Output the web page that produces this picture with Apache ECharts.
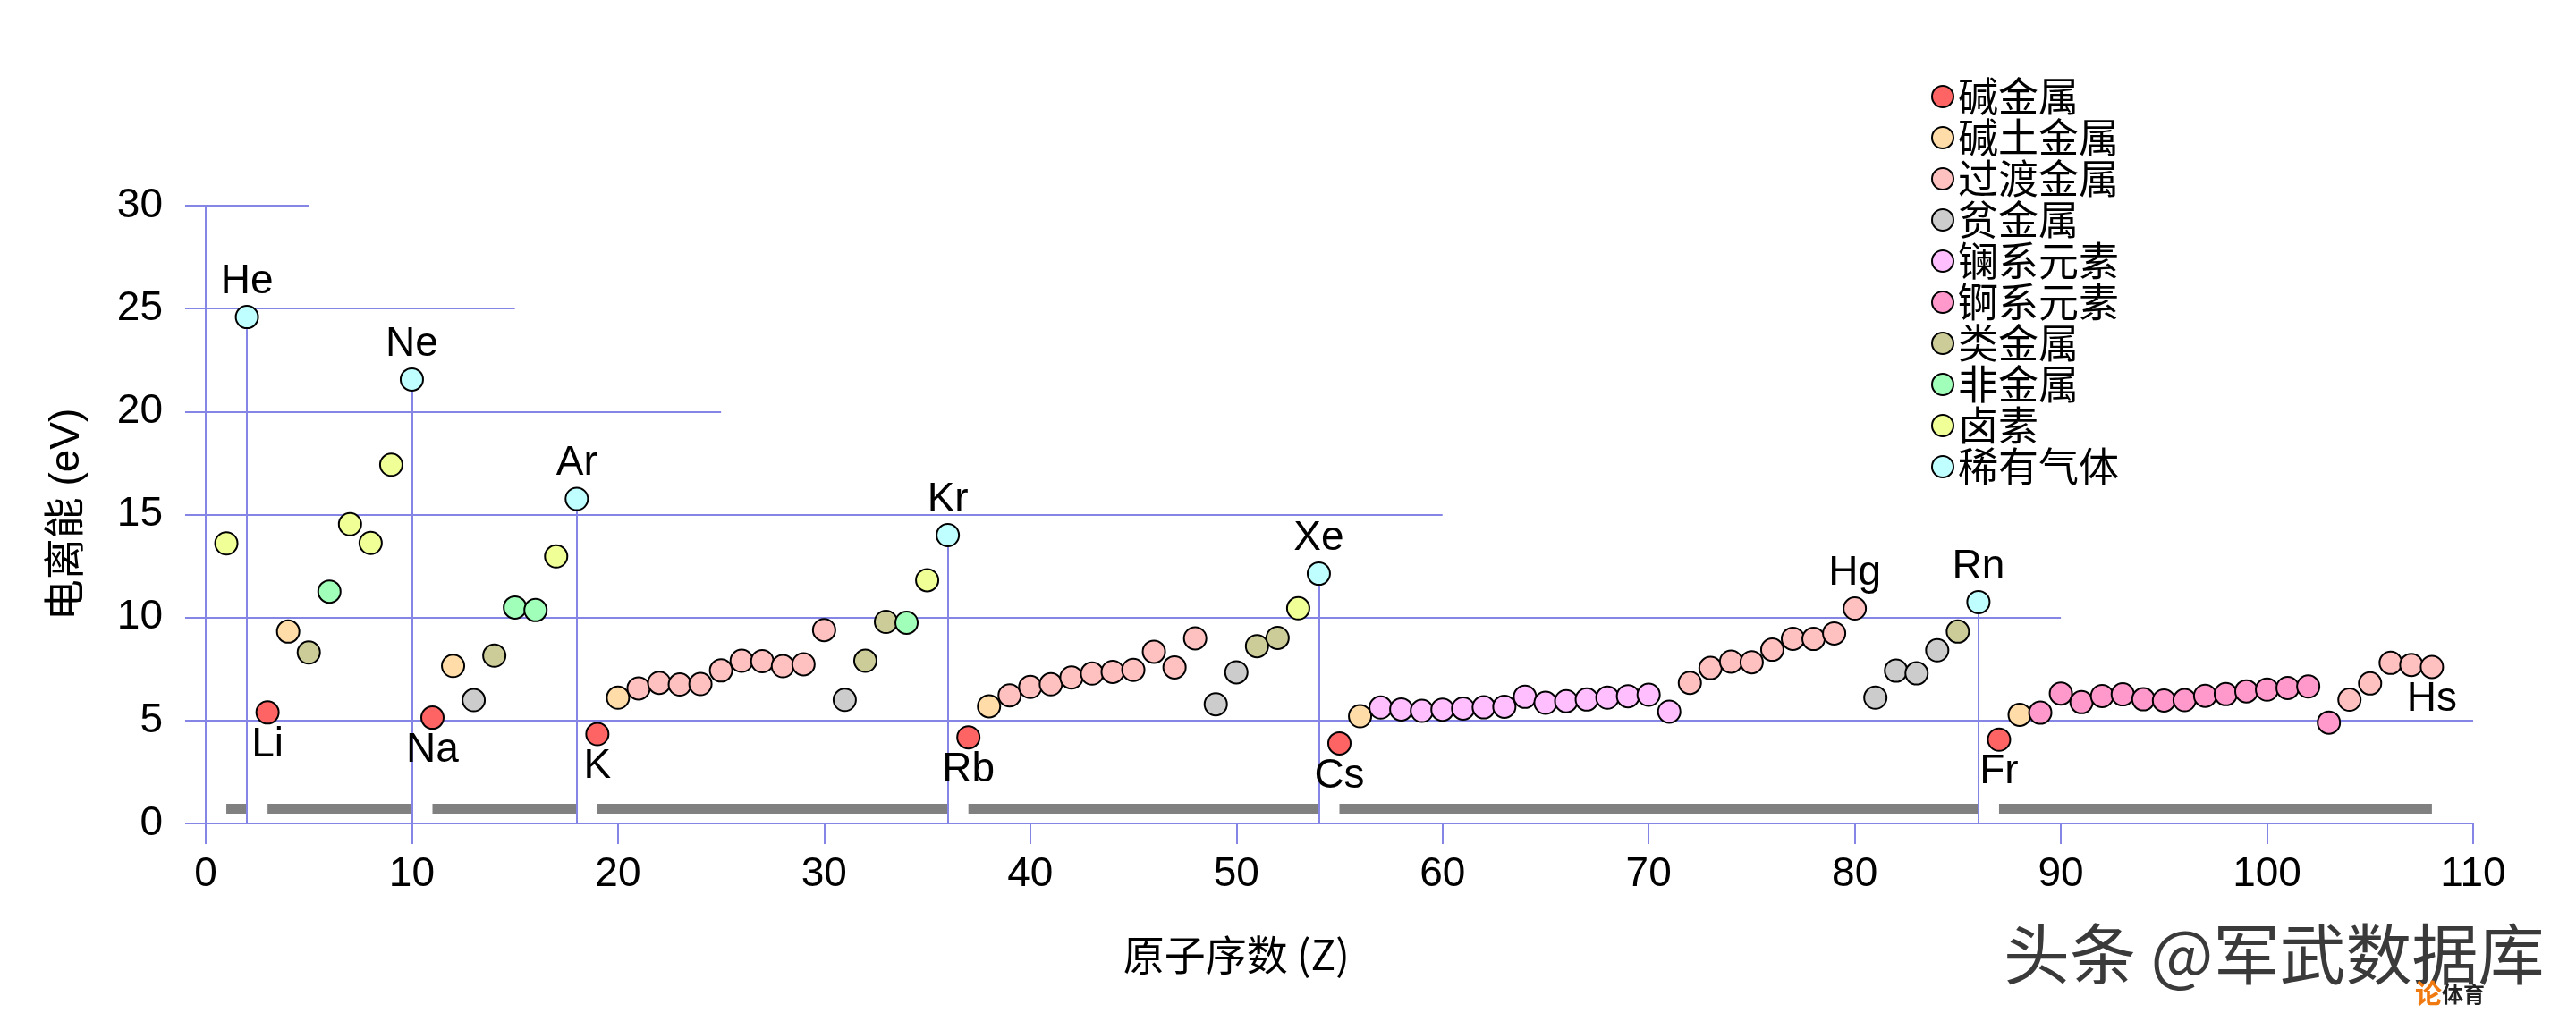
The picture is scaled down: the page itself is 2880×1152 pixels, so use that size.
<!DOCTYPE html>
<html>
<head>
<meta charset="utf-8">
<script src="https://cdn.jsdelivr.net/npm/echarts@6/dist/echarts.min.js"></script>
<style>
html,body{margin:0;padding:0;background:#fff;}
#chart{width:2880px;height:1152px;}
</style>
</head>
<body>
<div id="chart"></div>
<script>
// ---------------- DATA ----------------
const elements = ['H','He','Li','Be','B','C','N','O','F','Ne',
  'Na','Mg','Al','Si','P','S','Cl','Ar',
  'K','Ca','Sc','Ti','V','Cr','Mn','Fe','Co','Ni','Cu','Zn','Ga','Ge','As','Se','Br','Kr',
  'Rb','Sr','Y','Zr','Nb','Mo','Tc','Ru','Rh','Pd','Ag','Cd','In','Sn','Sb','Te','I','Xe',
  'Cs','Ba','La','Ce','Pr','Nd','Pm','Sm','Eu','Gd','Tb','Dy','Ho','Er','Tm','Yb','Lu',
  'Hf','Ta','W','Re','Os','Ir','Pt','Au','Hg','Tl','Pb','Bi','Po','At','Rn',
  'Fr','Ra','Ac','Th','Pa','U','Np','Pu','Am','Cm','Bk','Cf','Es','Fm','Md','No','Lr',
  'Rf','Db','Sg','Bh','Hs'];

const ionization = [13.60,24.59,5.39,9.32,8.30,11.26,14.53,13.62,17.42,21.56,
  5.14,7.65,5.99,8.15,10.49,10.36,12.97,15.76,
  4.34,6.11,6.56,6.83,6.75,6.77,7.43,7.90,7.88,7.64,7.73,9.39,6.00,7.90,9.79,9.75,11.81,14.00,
  4.18,5.69,6.22,6.63,6.76,7.09,7.28,7.36,7.46,8.34,7.58,8.99,5.79,7.34,8.61,9.01,10.45,12.13,
  3.89,5.21,5.63,5.54,5.47,5.53,5.58,5.64,5.67,6.15,5.86,5.94,6.02,6.11,6.18,6.25,5.43,
  6.83,7.55,7.86,7.83,8.44,8.97,8.96,9.23,10.44,6.11,7.42,7.29,8.41,9.32,10.75,
  4.07,5.28,5.38,6.31,5.89,6.19,6.27,6.03,5.97,5.99,6.20,6.28,6.42,6.50,6.58,6.65,4.90,
  6.01,6.80,7.80,7.70,7.60];

// category index per element (see categoryNames)
const category = [
  8,9,                                   // H He
  0,1,6,7,8,8,8,9,                       // Li..Ne
  0,1,3,6,7,7,8,9,                       // Na..Ar
  0,1, 2,2,2,2,2,2,2,2,2,2, 3,6,6,7,8,9, // K..Kr
  0,1, 2,2,2,2,2,2,2,2,2,2, 3,3,6,6,8,9, // Rb..Xe
  0,1, 4,4,4,4,4,4,4,4,4,4,4,4,4,4,4,    // Cs, Ba, La..Lu
  2,2,2,2,2,2,2,2,2, 3,3,3,3,6,9,        // Hf..Rn
  0,1, 5,5,5,5,5,5,5,5,5,5,5,5,5,5,5,    // Fr, Ra, Ac..Lr
  2,2,2,2,2                              // Rf..Hs
];

const categoryNames = ['碱金属','碱土金属','过渡金属','贫金属','镧系元素','锕系元素','类金属','非金属','卤素','稀有气体'];

const labelAbove = ['He','Ne','Ar','Kr','Xe','Hg','Rn'];
const labelBelow = ['Li','Na','K','Rb','Cs','Fr','Hs'];

// partial horizontal reference lines: value and x-extent
const refLineValues = [0,5,10,15,20,25,30];
const refLineEnds   = [110,110,90,60,25,15,5];

// period bars [first Z, last Z]
const periods = [[1,2],[3,10],[11,18],[19,36],[37,54],[55,86],[87,108]];
const periodBarLevel = 0.72;

const xTicks = {min:0, max:110, interval:10};
const yTicks = {min:0, max:30, interval:5};
const xTitleCenter = 50;

// ---------------- STYLE ----------------
const categoryColors = ['#ff6464','#ffdca8','#ffc0c0','#cccccc','#ffbfff','#ff99cc','#cccc99','#a0ffb8','#f0ff96','#c0ffff'];
const blue = '#8585e6';
const FONT = '"Liberation Sans", Arial, "Noto Sans CJK SC", sans-serif';
const FONTSIZE = 46;

// ---------------- BUILD ----------------
const chart = echarts.init(document.getElementById('chart'), null, {renderer:'canvas'});

const scatterSeries = categoryNames.map((name, ci) => {
  const data = [];
  elements.forEach((sym, i) => {
    if (category[i] !== ci) return;
    const item = {value:[i+1, ionization[i]], name: sym};
    if (labelAbove.includes(sym)) {
      item.label = {show:true, position:'top', distance:3, formatter: sym};
    } else if (labelBelow.includes(sym)) {
      item.label = {show:true, position:'bottom', distance:0, formatter: sym};
    }
    data.push(item);
  });
  return {
    name, type:'scatter', data, symbol:'circle', symbolSize:25, z:5,
    itemStyle:{color:categoryColors[ci], borderColor:'#000', borderWidth:2, opacity:1},
    label:{show:false, color:'#000', fontSize:FONTSIZE, fontFamily:FONT},
    emphasis:{disabled:true}
  };
});

const refLines = {
  type:'lines', coordinateSystem:'cartesian2d', silent:true, z:2,
  lineStyle:{color:blue, width:2, opacity:1},
  data: refLineValues.map((v,i) => ({coords:[[0,v],[refLineEnds[i],v]]}))
};

const dropLines = {
  type:'lines', coordinateSystem:'cartesian2d', silent:true, z:3,
  lineStyle:{color:blue, width:2, opacity:1},
  data: elements.map((s,i)=>i).filter(i=>category[i]===9).map(i => ({coords:[[i+1,0],[i+1,ionization[i]]]}))
};

const periodBars = {
  type:'lines', coordinateSystem:'cartesian2d', silent:true, z:1,
  lineStyle:{color:'#808080', width:11, opacity:1, cap:'butt'},
  data: periods.map(p => ({coords:[[p[0],periodBarLevel],[p[1],periodBarLevel]]}))
};

const option = {
  animation:false,
  backgroundColor:'#ffffff',
  textStyle:{fontFamily:FONT},
  grid:{left:230, right:115, top:230, bottom:231, containLabel:false},
  xAxis:{
    type:'value', min:xTicks.min, max:xTicks.max, interval:xTicks.interval,
    axisLine:{show:true, lineStyle:{color:blue, width:2}},
    axisTick:{show:true, length:23, lineStyle:{color:blue, width:2}},
    splitLine:{show:false},
    axisLabel:{color:'#000', fontSize:FONTSIZE, fontFamily:FONT, margin:34}
  },
  yAxis:{
    type:'value', min:yTicks.min, max:yTicks.max, interval:yTicks.interval,
    name:'电离能 (eV)', nameLocation:'middle', nameGap:132, nameRotate:90,
    nameTextStyle:{color:'#000', fontSize:FONTSIZE, fontFamily:FONT},
    axisLine:{show:true, lineStyle:{color:blue, width:2}},
    axisTick:{show:true, length:23, lineStyle:{color:blue, width:2}},
    splitLine:{show:false},
    axisLabel:{color:'#000', fontSize:FONTSIZE, fontFamily:FONT, margin:48}
  },
  legend:{
    orient:'vertical', left:2154, top:80, itemWidth:24, itemHeight:24, itemGap:0,
    icon:'circle', selectedMode:false,
    textStyle:{color:'#000', fontSize:45, lineHeight:46, fontFamily:'"Noto Sans CJK SC", sans-serif'},
    data: categoryNames
  },
  series:[periodBars, refLines, dropLines, ...scatterSeries]
};
chart.setOption(option);

// x-axis title centred at Z = 50 as in the reference
const xName = chart.convertToPixel({xAxisIndex:0}, xTitleCenter);
chart.setOption({
  graphic:[
    {type:'text', x:xName, y:1045, z:10,
     style:{text:'原子序数 (Z)', fill:'#000', font:'46px "Noto Sans CJK SC", sans-serif', textAlign:'center', textVerticalAlign:'top'}},
    {type:'text', x:2240, y:1030, z:10,
     style:{text:'头条 @军武数据库', fill:'#3a3a3a', stroke:'#ffffff', lineWidth:2, font:'74px "Noto Sans CJK SC", sans-serif', textVerticalAlign:'top'}},
    {type:'text', x:2700, y:1096, z:11,
     style:{text:'论', fill:'#f07a10', font:'bold 30px "Noto Sans CJK SC", sans-serif', textVerticalAlign:'top'}},
    {type:'text', x:2730, y:1100, z:11,
     style:{text:'体育', fill:'#222', font:'bold 24px "Noto Sans CJK SC", sans-serif', textVerticalAlign:'top'}}
  ]
});
</script>
</body>
</html>
